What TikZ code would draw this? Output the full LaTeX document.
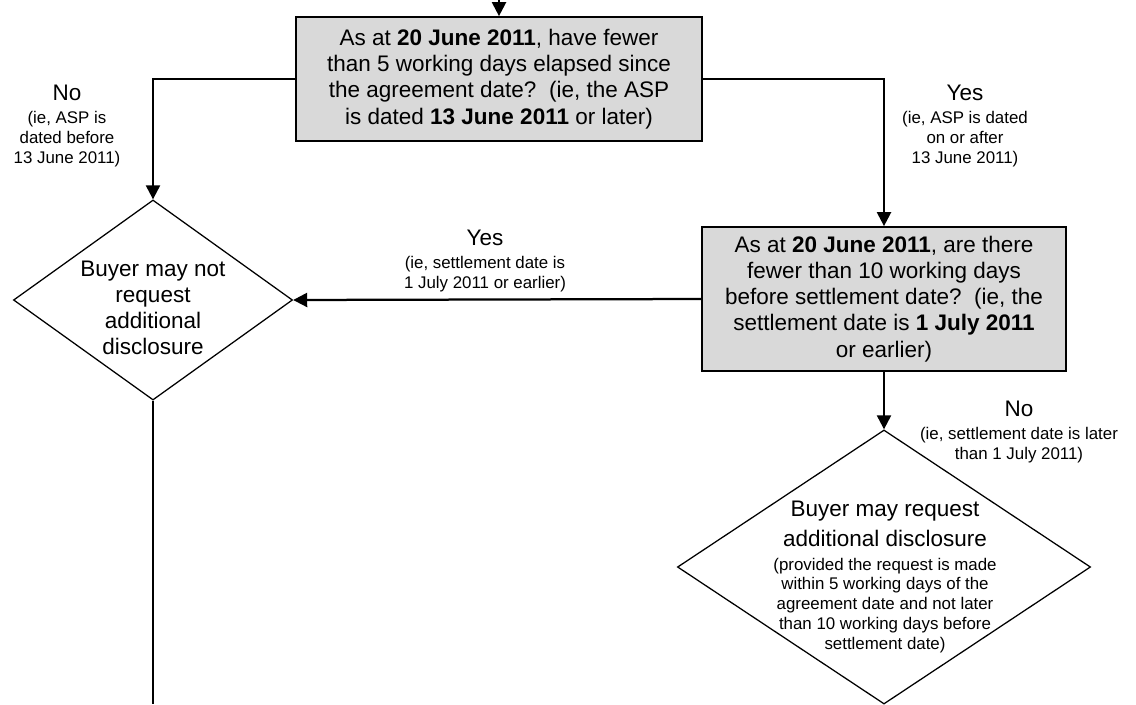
\documentclass[tikz,border=0pt]{standalone}
\usepackage{fontspec}
\setmainfont{Liberation Sans}
\usetikzlibrary{shapes.geometric,arrows.meta}

\newcommand{\bigtxt}{\fontsize{16}{18.6}\selectfont}
\newcommand{\smalltxt}{\fontsize{12}{14}\selectfont}

\begin{document}
\begin{tikzpicture}[x=0.025cm, y=-0.025cm,
  question/.style={draw, line width=1.2pt, fill=black!15, inner sep=0pt, align=center, font=\bigtxt},
  decision/.style={diamond, draw, line width=0.9pt, inner sep=0pt},
  flow/.style={line width=1.6pt, -{Triangle[length=10pt,width=10pt]}},
  answer/.style={align=center, inner sep=0pt, font=\smalltxt}]
\useasboundingbox (0,0) rectangle (1136,704);

\coordinate (start) at (499,0);
\coordinate (end) at (153,704);

\node [question, minimum width=10.15cm, minimum height=3.1cm] (q1) at (499,79)
  {As at \textbf{20 June 2011}, have fewer\\ than 5 working days elapsed since\\
   the agreement date?\ \ (ie, the ASP\\ is dated \textbf{13 June 2011} or later)};
\node [question, minimum width=9.1cm, minimum height=3.6cm] (q2) at (884,299)
  {As at \textbf{20 June 2011}, are there\\ fewer than 10 working days\\
   before settlement date?\ \ (ie, the\\ settlement date is \textbf{1 July 2011}\\ or earlier)};

\node [decision, minimum width=6.975cm, minimum height=5cm] (d1) at (153,300) {};
\node [answer, font=\bigtxt] (d1txt) at (153,308)
  {Buyer may not\\ request\\ additional\\ disclosure};
\node [decision, minimum width=10.325cm, minimum height=6.85cm] (d2) at (884,567) {};
\node [answer] (d2txt) at (885,577)
  {\bigtxt Buyer may request\\[5pt] \bigtxt additional disclosure\\[3pt]
   (provided the request is made\\ within 5 working days of the\\
   agreement date and not later\\ than 10 working days before\\ settlement date)};

% answers
\node [answer] (no1) at (67,126) {\bigtxt No\\[2.3pt] (ie, ASP is\\ dated before\\ 13 June 2011)};
\node [answer] (yes1) at (965,126) {\bigtxt Yes\\[2.3pt] (ie, ASP is dated\\ on or after\\ 13 June 2011)};
\node [answer] (yes2) at (485,261) {\bigtxt Yes\\[2pt] (ie, settlement date is\\ 1 July 2011 or earlier)};
\node [answer] (no2) at (1019,432) {\bigtxt No\\[2pt] (ie, settlement date is later\\ than 1 July 2011)};

\draw [flow] (start) -- (q1);
\draw [flow] (q1.west) -| (d1.north);
\draw [flow] (q1.east) -| (q2.north);
\draw [flow] (q2.west) -- (d1.east);
\draw [flow] (q2.south) -- (d2.north);
\draw [line width=1.6pt] (d1.south) -- (end);
\end{tikzpicture}
\end{document}
